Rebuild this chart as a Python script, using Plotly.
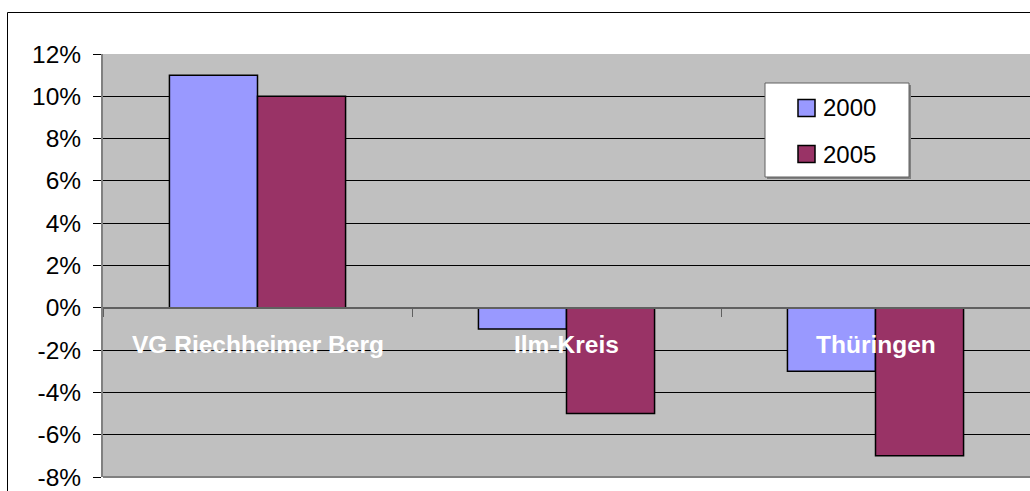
import plotly.graph_objects as go

categories = ["VG Riechheimer Berg", "Ilm-Kreis", "Thüringen"]
values_2000 = [11, -1, -3]
values_2005 = [10, -5, -7]
series_names = ["2000", "2005"]
series_colors = ["#9999FF", "#993366"]
y_ticks = [-8, -6, -4, -2, 0, 2, 4, 6, 8, 10, 12]
y_tick_labels = [f"{v}%" for v in y_ticks]

W, H = 1030, 491
PL, PT, PB = 103, 54, 477  # plot area in page pixels
L, R, T, B = PL, 0, PT, H - PB
pw, ph = W - PL, PB - PT


def px(x):
    return (x - PL) / pw


def py(y):
    return (PB - y) / ph


fig = go.Figure()
for name, vals, col in zip(series_names, [values_2000, values_2005], series_colors):
    fig.add_bar(x=categories, y=vals, name=name,
                marker=dict(color=col, line=dict(color="black", width=1.5)))

for c in categories:
    fig.add_annotation(x=c, y=-1.75, text=f"<b>{c}</b>", showarrow=False,
                       font=dict(family="Arial, Liberation Sans", size=24.5, color="white"))

# plot bottom border
fig.add_shape(type="line", xref="paper", yref="paper", x0=0, x1=1, y0=0, y1=0,
              line=dict(color="#808080", width=2))
# outer chart border (left and top)
fig.add_shape(type="path", xref="paper", yref="paper",
              path=f"M {px(7.5)},{py(495)} L {px(7.5)},{py(12.5)} L {px(1040)},{py(12.5)}",
              line=dict(color="black", width=1))

# legend box
fig.add_shape(type="rect", xref="paper", yref="paper",
              x0=px(767), x1=px(911), y0=py(85), y1=py(179),
              fillcolor="#808080", line=dict(width=0))
fig.add_shape(type="rect", xref="paper", yref="paper",
              x0=px(765), x1=px(909), y0=py(83), y1=py(177),
              fillcolor="white", line=dict(color="#606060", width=1))
for i, (name, col) in enumerate(zip(series_names, series_colors)):
    cy = 108 + 46 * i
    fig.add_shape(type="rect", xref="paper", yref="paper",
                  x0=px(798), x1=px(815), y0=py(cy - 8.5), y1=py(cy + 8.5),
                  fillcolor=col, line=dict(color="black", width=1.5))
    fig.add_annotation(xref="paper", yref="paper", x=px(821), y=py(cy),
                       xanchor="left", yanchor="middle", text=name, showarrow=False,
                       font=dict(family="Arial, Liberation Sans", size=24, color="black"))

fig.update_layout(
    width=W, height=H,
    margin=dict(l=L, r=R, t=T, b=B),
    paper_bgcolor="white", plot_bgcolor="#C0C0C0",
    barmode="group", bargap=0.43, bargroupgap=0,
    font=dict(family="Arial, Liberation Sans", size=24, color="black"),
    showlegend=False,
    xaxis=dict(anchor="free", position=8/20, showline=True, linecolor="#606060", linewidth=2,
               showticklabels=False, ticks="outside", ticklen=8, tickcolor="#606060",
               tickson="boundaries", showgrid=False, zeroline=False),
    yaxis=dict(range=[-8, 12], tickvals=y_ticks, ticktext=y_tick_labels,
               showgrid=True, gridcolor="black", gridwidth=1, zeroline=False,
               showline=True, linecolor="#808080", linewidth=2,
               ticks="outside", ticklen=8, tickcolor="black",
               ticklabelstandoff=7, tickfont=dict(size=24.5)),
)

fig.write_html(
    "out.html",
    config={"displayModeBar": False},
    post_script="document.body.style.margin='0';document.body.style.overflow='hidden';",
)
